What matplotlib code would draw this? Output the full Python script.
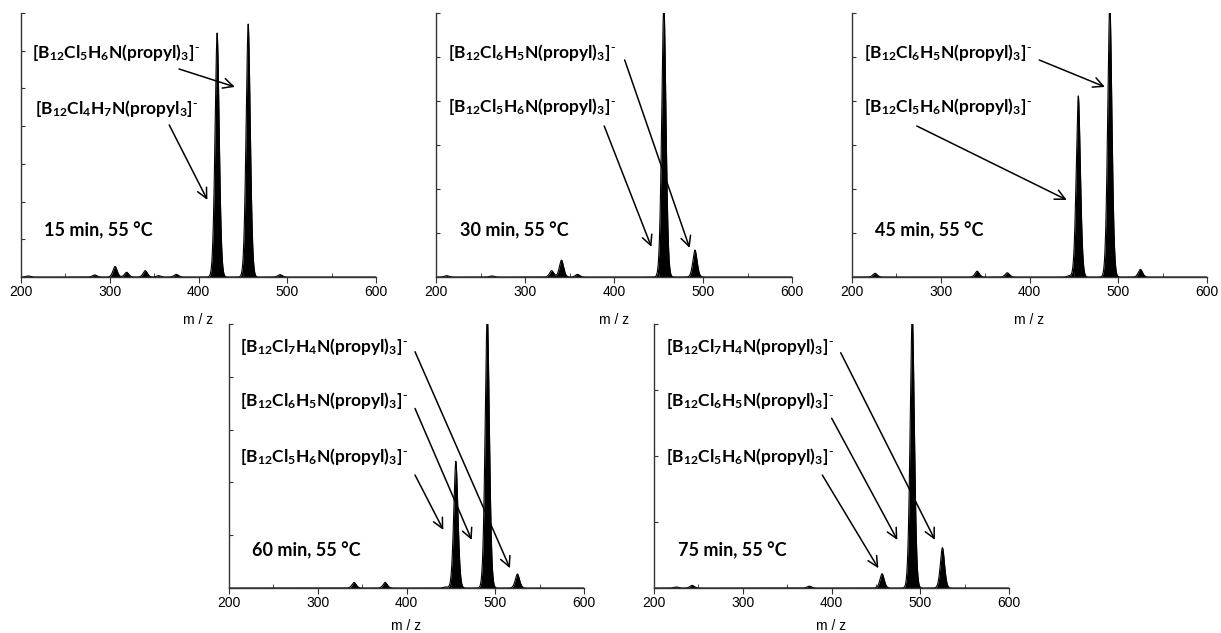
import numpy as np
import matplotlib.pyplot as plt
from matplotlib.ticker import MultipleLocator

plt.rcParams['mathtext.default'] = 'regular'

# Datos de los espectros (m/z del pico, altura en % del eje)
mz_15 = [208, 283, 306, 319, 340, 355, 375, 421, 456, 492]
int_15 = [0.4, 0.8, 4.0, 1.8, 2.4, 0.5, 1.0, 92.4, 95.8, 0.9]

mz_30 = [212, 263, 330, 341, 359, 456, 491]
int_30 = [0.5, 0.4, 2.4, 6.4, 1.0, 104, 10.2]

mz_45 = [226, 341, 375, 445, 455, 490.5, 525]
int_45 = [1.4, 2.2, 1.6, 0.5, 68.6, 104, 2.9]

mz_60 = [341, 376, 444, 455.6, 491, 525]
int_60 = [2.1, 2.1, 0.4, 48, 104, 5.3]

mz_75 = [225, 243, 375, 457, 491, 525]
int_75 = [0.4, 1.0, 0.7, 5.4, 104, 15.3]

titles = ['15 min, 55 °C', '30 min, 55 °C', '45 min, 55 °C',
          '60 min, 55 °C', '75 min, 55 °C']

# número de divisiones del eje y en cada panel
y_divs = [7, 6, 6, 5, 4]

lbl_a = r'[B$_{12}$Cl$_5$H$_6$N(propyl)$_3$]$^{\text{-}}$'
lbl_b = r'[B$_{12}$Cl$_4$H$_7$N(propyl$_3$]$^{\text{-}}$'
lbl_c = r'[B$_{12}$Cl$_6$H$_5$N(propyl)$_3$]$^{\text{-}}$'
lbl_d = r'[B$_{12}$Cl$_7$H$_4$N(propyl)$_3$]$^{\text{-}}$'

# etiquetas: (texto, x, y, flecha desde, flecha hasta)
notes = [
    [(lbl_a, 212, 0.85, (378, 0.788), (441, 0.72)),
     (lbl_b, 216, 0.64, (367, 0.576), (410, 0.292))],
    [(lbl_c, 213.5, 0.85, (412, 0.822), (485, 0.11)),
     (lbl_a, 213.5, 0.645, (389, 0.572), (442, 0.114))],
    [(lbl_c, 213.5, 0.85, (411, 0.822), (485, 0.72)),
     (lbl_a, 213.5, 0.645, (273, 0.572), (442, 0.292))],
    [(lbl_d, 212.4, 0.914, (409.6, 0.895), (516.6, 0.075)),
     (lbl_c, 212.4, 0.712, (409.6, 0.68), (473.5, 0.182)),
     (lbl_a, 212.4, 0.497, (409.6, 0.428), (441.5, 0.22))],
    [(lbl_d, 213, 0.914, (410.4, 0.891), (516.6, 0.182)),
     (lbl_c, 213, 0.712, (400.2, 0.643), (474.2, 0.182)),
     (lbl_a, 213, 0.497, (389.6, 0.428), (452.8, 0.075))],
]
title_pos = [(226, 0.178), (227, 0.178), (226, 0.178), (225.6, 0.141), (226.7, 0.141)]

# posiciones de los ejes en píxeles (izq, der, arriba, abajo)
W, H = 1221, 633
boxes = [(21, 376, 13, 277), (436, 792, 13, 277), (852, 1207, 13, 277),
         (229, 584, 324, 588), (654, 1009, 324, 588)]

spectra = [(mz_15, int_15), (mz_30, int_30), (mz_45, int_45),
           (mz_60, int_60), (mz_75, int_75)]

x = np.arange(200, 600.01, 0.1)


def peak_profile(centers, heights, b=3.4):
    y = np.zeros_like(x)
    for c, h in zip(centers, heights):
        y += h * np.exp(-(np.abs(x - c) / b) ** 1.8)
    return y


fig = plt.figure(figsize=(W / 100, H / 100), dpi=100)

for i, (mz, inten) in enumerate(spectra):
    l, r, t, btm = boxes[i]
    ax = fig.add_axes([l / W, 1 - btm / H, (r - l) / W, (btm - t) / H])
    y = peak_profile(mz, inten)
    ax.fill_between(x, 0, y, color='black', lw=0)
    ax.plot(x, y, color='black', lw=0.8)
    ax.set_xlim(200, 600)
    ax.set_ylim(0, 100)

    ax.spines['top'].set_visible(False)
    ax.spines['right'].set_visible(False)
    for s in ('left', 'bottom'):
        ax.spines[s].set_color('#333333')
        ax.spines[s].set_linewidth(1.0)

    ax.xaxis.set_major_locator(MultipleLocator(100))
    ax.xaxis.set_minor_locator(MultipleLocator(50))
    ax.tick_params(axis='x', which='major', direction='out', length=4,
                   labelsize=10, pad=2, color='#333333')
    ax.tick_params(axis='x', which='minor', direction='in', length=3,
                   color='#333333')
    ax.set_yticks(np.linspace(0, 100, y_divs[i] + 1))
    ax.tick_params(axis='y', direction='in', length=3, labelleft=False,
                   color='#333333')
    for lab in ax.get_xticklabels():
        lab.set_family('Liberation Sans')
    # la fila de abajo queda casi en el borde de la figura
    pad = 10 if i < 3 else 6
    ax.set_xlabel('m / z', fontsize=10, family='Liberation Sans', labelpad=pad)

    # anotaciones con flechas
    for txt, tx, ty, p0, p1 in notes[i]:
        ax.text(tx, ty * 100, txt, fontsize=12.5, fontweight='bold', family='Lato',
                va='center', ha='left')
        ax.annotate('', xy=(p1[0], p1[1] * 100), xytext=(p0[0], p0[1] * 100),
                    arrowprops=dict(arrowstyle='->', color='black', lw=1.1,
                                    mutation_scale=18, shrinkA=0, shrinkB=0))
    ax.text(title_pos[i][0], title_pos[i][1] * 100, titles[i], fontsize=13,
            fontweight='bold', family='Lato', va='center', ha='left')

plt.savefig('out.png', dpi=100)
